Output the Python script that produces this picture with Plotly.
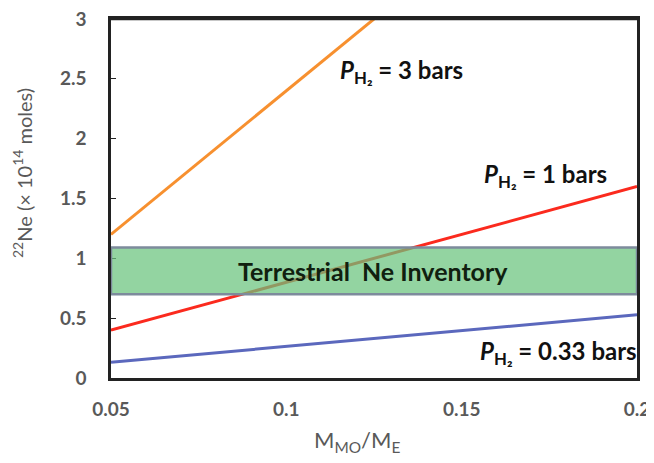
import plotly.graph_objects as go

# Data
mass_ratio = [0.05, 0.2]
ne_3bar = [1.2, 4.8]
ne_1bar = [0.4, 1.6]
ne_033bar = [0.132, 0.528]
inventory_range = [0.7, 1.09]
x_ticks = [0.05, 0.1, 0.15, 0.2]
x_tick_labels = ["0.05", "0.1", "0.15", "0.2"]
y_ticks = [0, 0.5, 1, 1.5, 2, 2.5, 3]
y_tick_labels = ["0", "0.5", "1", "1.5", "2", "2.5", "3"]

FONT = "Lato"

fig = go.Figure()
fig.add_trace(go.Scatter(x=mass_ratio, y=ne_3bar, mode="lines",
                         line=dict(color="#f7902f", width=3)))
fig.add_trace(go.Scatter(x=mass_ratio, y=ne_1bar, mode="lines",
                         line=dict(color="#fb2a1e", width=3)))
fig.add_trace(go.Scatter(x=mass_ratio, y=ne_033bar, mode="lines",
                         line=dict(color="#5b68bd", width=3)))

fig.add_shape(type="rect", xref="x", yref="y",
              x0=mass_ratio[0], x1=mass_ratio[-1],
              y0=inventory_range[0], y1=inventory_range[1],
              fillcolor="rgba(105,196,125,0.72)",
              line=dict(color="#7d8b9c", width=2.5), layer="above")

# top edge of frame
fig.add_shape(type="line", xref="paper", yref="paper", x0=0, x1=1, y0=1, y1=1,
              line=dict(color="#222222", width=2.5), layer="above")

fig.add_annotation(x=0.1247, y=sum(inventory_range) / 2, xref="x", yref="y",
                   text="<b>Terrestrial  Ne Inventory</b>", showarrow=False,
                   font=dict(family=FONT, size=25, color="#10200f"))

lab_font = dict(family=FONT, size=24, color="#111111")
fig.add_annotation(x=0.1327, y=2.56, text="<b><i>P</i><sub>H₂</sub> = 3 bars</b>",
                   showarrow=False, font=lab_font)
fig.add_annotation(x=0.1738, y=1.69, text="<b><i>P</i><sub>H₂</sub> = 1 bars</b>",
                   showarrow=False, font=lab_font)
fig.add_annotation(x=0.1775, y=0.21, text="<b><i>P</i><sub>H₂</sub> = 0.33 bars</b>",
                   showarrow=False, font=lab_font)

# axis titles
fig.add_annotation(x=-0.168, y=0.57, xref="paper", yref="paper",
                   xanchor="center", yanchor="middle",
                   text="<sup>22</sup>Ne (× 10<sup>14</sup> moles)", textangle=-90,
                   showarrow=False, font=dict(family=FONT, size=20, color="#595959"))
fig.add_annotation(x=0.468, y=-0.175, xref="paper", yref="paper",
                   xanchor="center", yanchor="middle",
                   text="M<sub>MO</sub>/M<sub>E</sub>",
                   showarrow=False, font=dict(family=FONT, size=22, color="#595959"))

fig.update_layout(
    width=654, height=463,
    margin=dict(l=103, r=25, t=11, b=93),
    paper_bgcolor="white", plot_bgcolor="rgba(0,0,0,0)",
    showlegend=False,
    font=dict(family=FONT, color="#595959"),
    xaxis=dict(range=[0.05, 0.2], tickvals=x_ticks,
               ticktext=["<b>%s</b>" % t for t in x_tick_labels],
               showgrid=False, zeroline=False, showline=True, mirror=True,
               linecolor="#222222", linewidth=2.5,
               ticks="", automargin=False,
               ticklabelstandoff=12, ticklabeloverflow="allow",
               tickfont=dict(family=FONT, size=19, color="#595959")),
    yaxis=dict(range=[0, 3], tickvals=y_ticks,
               ticktext=["<b>%s</b>" % t for t in y_tick_labels],
               showgrid=False, zeroline=False, showline=True, mirror=True,
               linecolor="#222222", linewidth=2.5,
               ticks="inside", ticklen=5,
               tickcolor="#222222", automargin=False, ticklabelstandoff=18,
               ticklabeloverflow="allow",
               tickfont=dict(family=FONT, size=19, color="#595959")),
)

fig.write_html("out.html")
